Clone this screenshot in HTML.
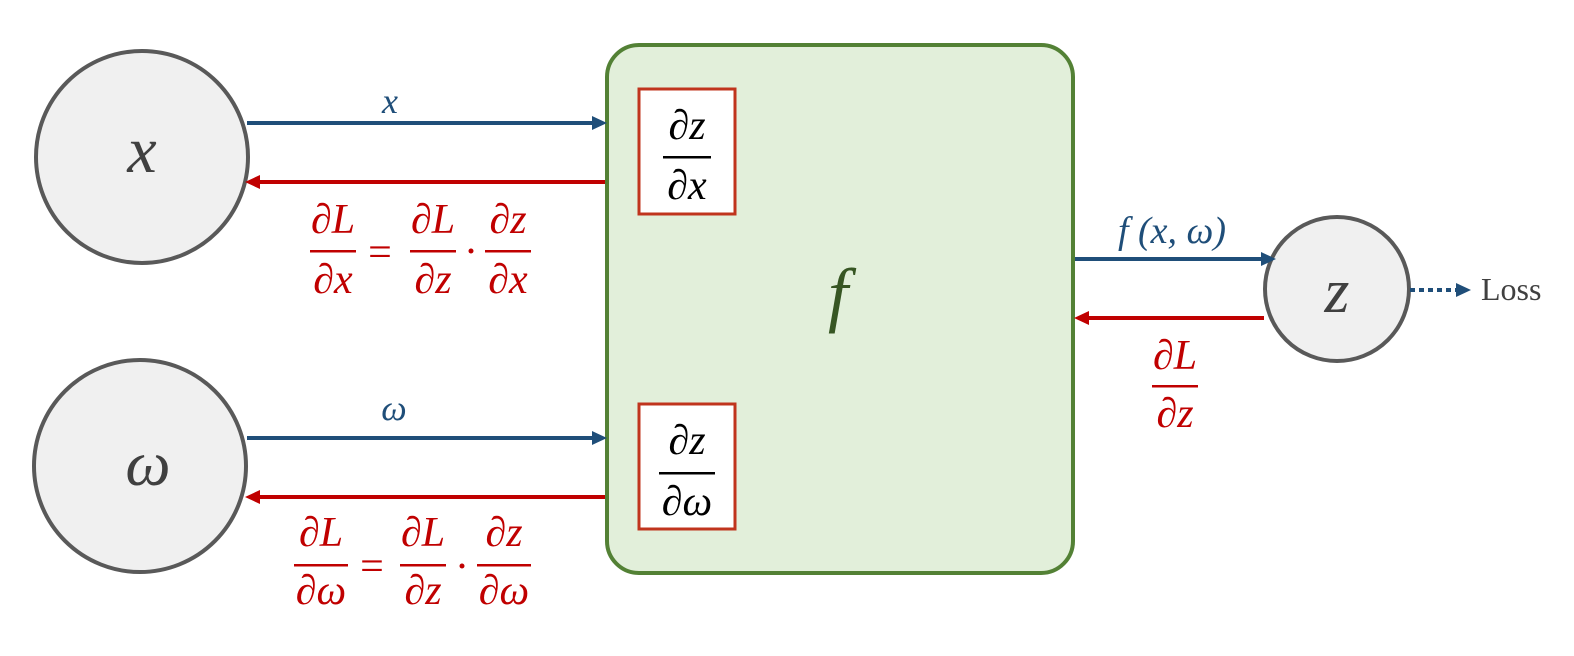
<!DOCTYPE html>
<html><head><meta charset="utf-8"><style>
html,body{margin:0;padding:0;background:#fff}
svg{display:block}
text{font-family:"Liberation Serif",serif;font-style:italic}
.r{fill:#c00000}
.b{fill:#1f4e79}
.k{fill:#000}
</style></head><body>
<svg width="1574" height="656" viewBox="0 0 1574 656" xmlns="http://www.w3.org/2000/svg">
<!-- green box -->
<rect x="607" y="45" width="466" height="528" rx="32" fill="#e2efda" stroke="#538135" stroke-width="4"/>
<!-- circles -->
<circle cx="142" cy="157" r="106" fill="#f0f0f0" stroke="#595959" stroke-width="4"/>
<circle cx="140" cy="466" r="106" fill="#f0f0f0" stroke="#595959" stroke-width="4"/>
<circle cx="1337" cy="289" r="72" fill="#f0f0f0" stroke="#595959" stroke-width="4"/>
<text x="142" y="172" font-size="66" text-anchor="middle" fill="#404040">x</text>
<text x="148" y="485" font-size="64" text-anchor="middle" fill="#404040">ω</text>
<text x="1337" y="312" font-size="64" text-anchor="middle" fill="#404040">z</text>
<!-- arrows -->
<g stroke-width="4">
<line x1="247" y1="123" x2="594" y2="123" stroke="#1f4e79"/>
<line x1="247" y1="438" x2="594" y2="438" stroke="#1f4e79"/>
<line x1="605" y1="182" x2="258" y2="182" stroke="#c00000"/>
<line x1="605" y1="497" x2="258" y2="497" stroke="#c00000"/>
<line x1="1075" y1="259" x2="1262" y2="259" stroke="#1f4e79"/>
<line x1="1264" y1="318" x2="1087" y2="318" stroke="#c00000"/>
<line x1="1410" y1="290" x2="1458" y2="290" stroke="#1f4e79" stroke-dasharray="5,4"/>
</g>
<path d="M592,116 L607,123 L592,130 Z" fill="#1f4e79"/>
<path d="M592,431 L607,438 L592,445 Z" fill="#1f4e79"/>
<path d="M260,175 L245,182 L260,189 Z" fill="#c00000"/>
<path d="M260,490 L245,497 L260,504 Z" fill="#c00000"/>
<path d="M1261,252 L1276,259 L1261,266 Z" fill="#1f4e79"/>
<path d="M1089,311 L1074,318 L1089,325 Z" fill="#c00000"/>
<path d="M1456,283 L1471,290 L1456,297 Z" fill="#1f4e79"/>
<text x="1481" y="300" font-size="32" fill="#404040" style="font-style:normal">Loss</text>
<!-- red boxes -->
<rect x="639" y="89" width="96" height="125" fill="#fff" stroke="#c0341d" stroke-width="3"/>
<rect x="639" y="404" width="96" height="125" fill="#fff" stroke="#c0341d" stroke-width="3"/>
<g class="k" font-size="42" text-anchor="middle">
<text x="687" y="139">∂z</text><rect x="663" y="156" width="48" height="2.5"/><text x="687" y="199">∂x</text>
<text x="687" y="454">∂z</text><rect x="659" y="472" width="56" height="2.5"/><text x="687" y="515">∂ω</text>
</g>
<text x="838" y="318" font-size="72" fill="#375623" text-anchor="middle">f</text>
<!-- labels -->
<text x="390" y="113" font-size="36" class="b" text-anchor="middle">x</text>
<text x="394" y="420" font-size="36" class="b" text-anchor="middle">ω</text>
<text x="1172" y="243" font-size="38" class="b" text-anchor="middle">f (x, ω)</text>
<g class="r" font-size="42" text-anchor="middle">
<text x="333" y="233">∂L</text><rect x="310" y="250" width="46" height="2.5"/><text x="333" y="293">∂x</text>
<text x="380" y="266" style="font-style:normal">=</text>
<text x="433" y="233">∂L</text><rect x="410" y="250" width="46" height="2.5"/><text x="433" y="293">∂z</text>
<circle cx="471" cy="251" r="2.5"/>
<text x="508" y="233">∂z</text><rect x="485" y="250" width="46" height="2.5"/><text x="508" y="293">∂x</text>

<text x="321" y="546">∂L</text><rect x="294" y="564" width="54" height="2.5"/><text x="321" y="604">∂ω</text>
<text x="372" y="580" style="font-style:normal">=</text>
<text x="423" y="546">∂L</text><rect x="400" y="564" width="46" height="2.5"/><text x="423" y="604">∂z</text>
<circle cx="462" cy="566" r="2.5"/>
<text x="504" y="546">∂z</text><rect x="477" y="564" width="54" height="2.5"/><text x="504" y="604">∂ω</text>

<text x="1175" y="369">∂L</text><rect x="1152" y="385" width="46" height="2.5"/><text x="1175" y="427">∂z</text>
</g>
</svg>
</body></html>
